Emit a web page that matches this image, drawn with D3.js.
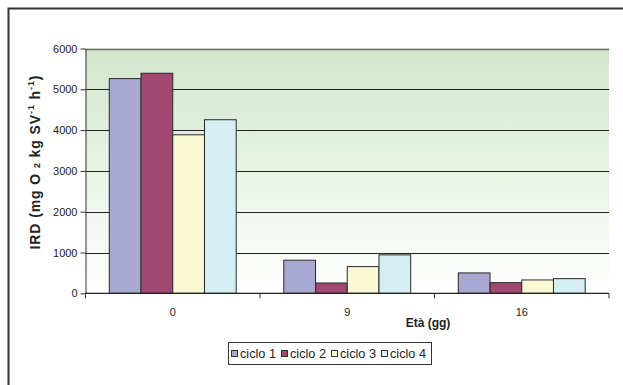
<!DOCTYPE html>
<html>
<head>
<meta charset="utf-8">
<script src="https://cdn.jsdelivr.net/npm/d3@7"></script>
<style>
  html, body { margin: 0; padding: 0; background: #fff; }
  svg { display: block; font-family: "Liberation Sans", Arial, sans-serif; }
</style>
</head>
<body>
<svg id="chart" width="623" height="385"></svg>
<script>
// Age groups (days) on the x axis
const ages = ["0", "9", "16"];
// Series: one per cycle
const seriesNames = ["ciclo 1", "ciclo 2", "ciclo 3", "ciclo 4"];
const ciclo1 = [5262, 811, 500];
const ciclo2 = [5393, 253, 261];
const ciclo3 = [3885, 654, 327];
const ciclo4 = [4254, 942, 359];
const yTicks = [0, 1000, 2000, 3000, 4000, 5000, 6000];
const colors = ["#a8a8d3", "#a14770", "#f9f9d3", "#d5eef4"];

const seriesValues = [ciclo1, ciclo2, ciclo3, ciclo4];

const svg = d3.select("#chart");
const plot = { left: 85.5, top: 48.5, right: 609, bottom: 293.3 };

// outer chart frame
svg.append("rect")
  .attr("x", 8.5).attr("y", 8.5)
  .attr("width", 640).attr("height", 400)
  .attr("fill", "#fff")
  .attr("stroke", "#333").attr("stroke-width", 2);

const defs = svg.append("defs");
const grad = defs.append("linearGradient")
  .attr("id", "plotBg").attr("x1", 0).attr("y1", 0).attr("x2", 0).attr("y2", 1);
grad.append("stop").attr("offset", "0%").attr("stop-color", "#d2e6cb");
grad.append("stop").attr("offset", "100%").attr("stop-color", "#ffffff");

const x0 = d3.scaleBand().domain(ages).range([plot.left, plot.right]).paddingInner(0).paddingOuter(0);
// gap between clusters is 1.5 bar widths
const x1 = d3.scaleBand().domain(seriesNames).range([0, x0.bandwidth()])
  .paddingInner(0).paddingOuter(0.75);
const y = d3.scaleLinear().domain([0, 6000]).range([plot.bottom, plot.top]);

// plot background
svg.append("rect")
  .attr("x", plot.left).attr("y", plot.top)
  .attr("width", plot.right - plot.left).attr("height", plot.bottom - plot.top)
  .attr("fill", "url(#plotBg)");

// horizontal gridlines
svg.append("g")
  .selectAll("line")
  .data(yTicks.filter(d => d > 0))
  .join("line")
  .attr("x1", plot.left).attr("x2", plot.right)
  .attr("y1", d => Math.round(y(d)) + 0.5).attr("y2", d => Math.round(y(d)) + 0.5)
  .attr("stroke", d => d === 6000 ? "#6a6a6a" : "#222")
  .attr("stroke-width", d => d === 6000 ? 1.5 : 1);

// bars
const groups = svg.append("g")
  .selectAll("g")
  .data(ages)
  .join("g")
  .attr("transform", d => `translate(${x0(d)},0)`);

groups.selectAll("rect")
  .data((d, i) => seriesNames.map((s, j) => ({ s, j, v: seriesValues[j][i] })))
  .join("rect")
  .attr("x", d => x1(d.s))
  .attr("y", d => y(d.v))
  .attr("width", x1.bandwidth())
  .attr("height", d => y(0) - y(d.v))
  .attr("fill", d => colors[d.j])
  .attr("stroke", "#2a2a2a")
  .attr("stroke-width", 1);

// y axis
const yAxis = svg.append("g")
  .attr("transform", `translate(${plot.left},0)`)
  .call(d3.axisLeft(y).tickValues(yTicks).tickFormat(d3.format("d"))
    .tickSize(5).tickSizeOuter(0).tickPadding(3));
yAxis.select(".domain").attr("stroke", "#333");
yAxis.selectAll(".tick line").attr("stroke", "#333");
yAxis.selectAll("text").attr("font-size", 11).attr("fill", "#222")
  .attr("font-family", "Liberation Sans, Arial, sans-serif");

// x axis with ticks at group boundaries
const xAxisG = svg.append("g").attr("transform", `translate(0,${plot.bottom})`);
xAxisG.append("line")
  .attr("x1", plot.left).attr("x2", plot.right)
  .attr("y1", 0).attr("y2", 0)
  .attr("stroke", "#222").attr("stroke-width", 1.2);
const boundaries = ages.map(a => x0(a)).concat([plot.right]);
xAxisG.selectAll(".bt")
  .data(boundaries)
  .join("line")
  .attr("x1", d => d).attr("x2", d => d)
  .attr("y1", 0).attr("y2", 5)
  .attr("stroke", "#333");
xAxisG.selectAll(".xl")
  .data(ages)
  .join("text")
  .attr("x", d => x0(d) + x0.bandwidth() / 2)
  .attr("y", 23)
  .attr("text-anchor", "middle")
  .attr("font-size", 11)
  .attr("fill", "#222")
  .text(d => d);

// axis titles
svg.append("text")
  .attr("x", 428).attr("y", 327)
  .attr("text-anchor", "middle")
  .attr("font-size", 12).attr("font-weight", "bold").attr("fill", "#222")
  .text("Età (gg)");

const yt = svg.append("text")
  .attr("transform", "translate(40,162) rotate(-90)")
  .attr("text-anchor", "middle")
  .attr("font-size", 14).attr("font-weight", "bold").attr("fill", "#222")
  .attr("letter-spacing", 0.9);
yt.append("tspan").text("IRD (mg O ");
yt.append("tspan").attr("font-size", 9).text("2");
yt.append("tspan").text(" kg SV");
yt.append("tspan").attr("font-size", 9).attr("dy", -6).text("-1");
yt.append("tspan").attr("dy", 6).text(" h");
yt.append("tspan").attr("font-size", 9).attr("dy", -6).text("-1");
yt.append("tspan").attr("dy", 6).text(")");

// legend
const legend = svg.append("g");
legend.append("rect")
  .attr("x", 228.5).attr("y", 342.5).attr("width", 203).attr("height", 22)
  .attr("fill", "#fff").attr("stroke", "#333");
const legendX = [231, 281, 331, 381];
const items = legend.selectAll(".li")
  .data(seriesNames)
  .join("g")
  .attr("transform", (d, i) => `translate(${legendX[i]},353.5)`);
items.append("rect")
  .attr("x", 0.5).attr("y", -3).attr("width", 6).attr("height", 6)
  .attr("fill", (d, i) => colors[i]).attr("stroke", "#333");
items.append("text")
  .attr("x", 9).attr("y", 4.5)
  .attr("font-size", 12).attr("fill", "#222")
  .attr("textLength", 36).attr("lengthAdjust", "spacingAndGlyphs")
  .text(d => d);
</script>
</body>
</html>
